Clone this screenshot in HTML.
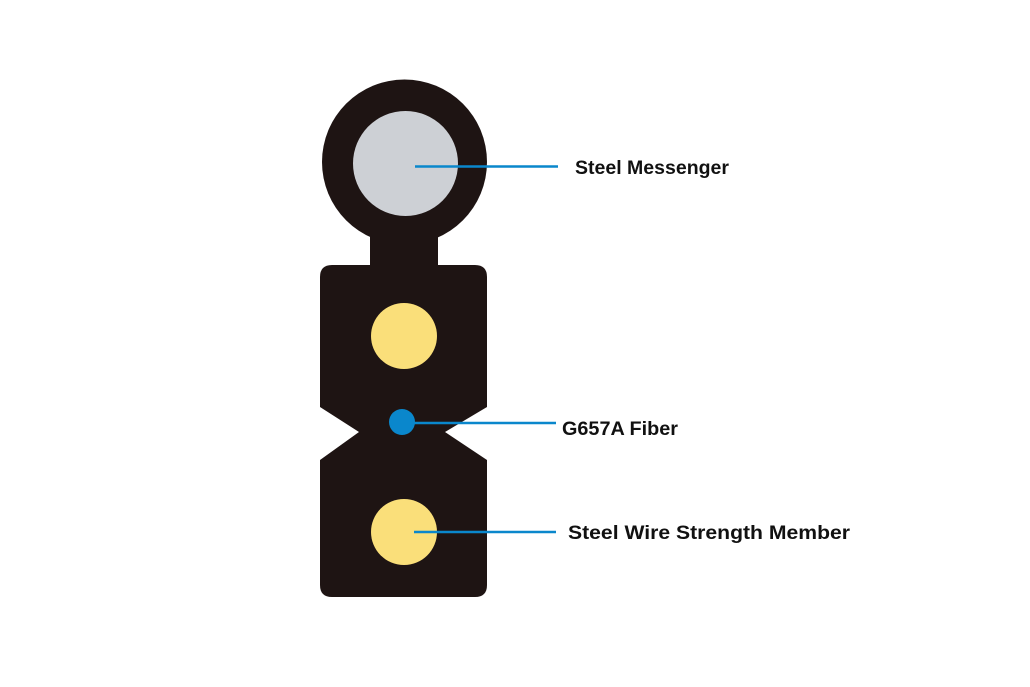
<!DOCTYPE html>
<html><head><style>
html,body{margin:0;padding:0;background:#fff;}
svg{display:block}
text{font-family:"Liberation Sans",Arial,sans-serif;font-weight:bold;font-size:19px;fill:#111}
</style></head><body>
<svg width="1030" height="687" viewBox="0 0 1030 687">
<rect width="1030" height="687" fill="#fff"/>
<g fill="#1e1413">
<circle cx="404.5" cy="162" r="82.5"/>
<rect x="370" y="220" width="68" height="60"/>
<path d="M332,265 H475 Q487,265 487,277 V407 L445,432 L487,460 V585 Q487,597 475,597 H332 Q320,597 320,585 V460 L359,432 L320,407 V277 Q320,265 332,265 Z"/>
</g>
<circle cx="405.5" cy="163.5" r="52.5" fill="#cdd0d5"/>
<circle cx="404" cy="336" r="33" fill="#fadf7a"/>
<circle cx="404" cy="532" r="33" fill="#fadf7a"/>
<circle cx="402" cy="422" r="13" fill="#0a87cc"/>
<g stroke="#0a87cc" stroke-width="2.5">
<line x1="415" y1="166.5" x2="558" y2="166.5"/>
<line x1="413" y1="423" x2="556" y2="423"/>
<line x1="414" y1="532" x2="556" y2="532"/>
</g>
<text x="575" y="174" textLength="154" lengthAdjust="spacingAndGlyphs">Steel Messenger</text>
<text x="562" y="435" textLength="116" lengthAdjust="spacingAndGlyphs">G657A Fiber</text>
<text x="568" y="539" textLength="282" lengthAdjust="spacingAndGlyphs">Steel Wire Strength Member</text>
</svg>
</body></html>
